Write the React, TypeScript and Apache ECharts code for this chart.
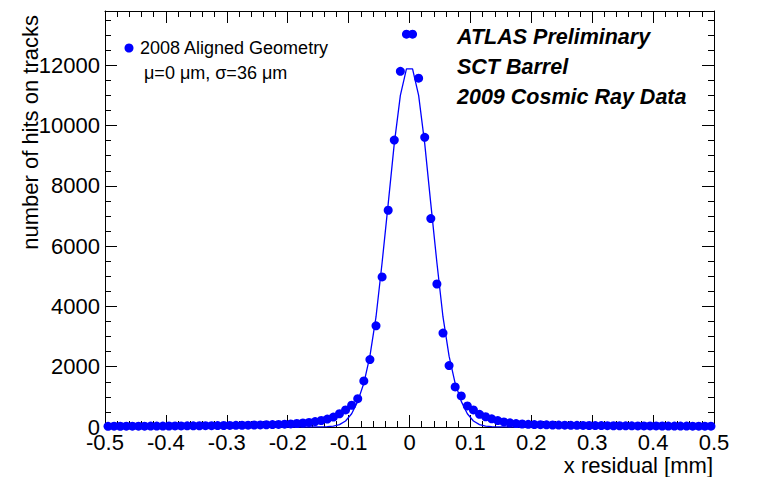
import { useEffect, useRef } from "react";
import * as echarts from "echarts";

// Histogram: 100 bins of 0.01 mm from -0.5 to 0.5 mm (bin centers -0.495 ... 0.495)
const binFirstCenter = -0.495;
const binWidth = 0.01;
const counts: number[] = [
  // -0.495 .. -0.405
  24, 26, 25, 27, 28, 27, 29, 30, 31, 32,
  // -0.395 .. -0.305
  33, 35, 36, 38, 39, 41, 43, 45, 47, 50,
  // -0.295 .. -0.205
  52, 55, 58, 62, 66, 70, 75, 80, 87, 95,
  // -0.195 .. -0.105
  102, 116, 132, 152, 180, 215, 262, 330, 440, 565,
  // -0.095 .. -0.005
  721, 941, 1529, 2237, 3358, 4977, 7190, 9518, 11800, 13030,
  // 0.005 .. 0.095
  13030, 11570, 9608, 6915, 4744, 3115, 2038, 1330, 1031, 700,
  // 0.105 .. 0.195
  565, 420, 340, 270, 212, 170, 140, 115, 100, 90,
  // 0.205 .. 0.295
  82, 76, 71, 67, 63, 60, 57, 54, 52, 50,
  // 0.305 .. 0.395
  48, 46, 44, 42, 41, 39, 38, 37, 36, 35,
  // 0.405 .. 0.495
  34, 33, 32, 31, 30, 30, 29, 28, 28, 27,
];

// Gaussian fit curve as drawn
const fitX: number[] = [
  -0.195, -0.185, -0.175, -0.165, -0.155, -0.145, -0.135, -0.125, -0.115, -0.105,
  -0.095, -0.085, -0.075, -0.065, -0.055, -0.045, -0.035, -0.025, -0.015, -0.005,
  0.005, 0.015, 0.025, 0.035, 0.045, 0.055, 0.065, 0.075, 0.085, 0.095,
  0.105, 0.115, 0.125, 0.135, 0.145, 0.155, 0.165, 0.175, 0.185, 0.195,
];
const fitY: number[] = [
  0, 0, 0, 0, 1, 3, 10, 30, 80, 200,
  440, 850, 1450, 2350, 3650, 5450, 7400, 9400, 11000, 11880,
  11880, 11000, 9400, 7400, 5450, 3650, 2350, 1450, 850, 440,
  200, 80, 30, 10, 3, 1, 0, 0, 0, 0,
];

const xMin = -0.5;
const xMax = 0.5;
const xStep = 0.1;
const yMin = 0;
const yMax = 13800;
const yStep = 2000;

const legendLabel = "2008 Aligned Geometry";
const legendSub = "\u03bc=0 \u03bcm, \u03c3=36 \u03bcm";
const infoLines = ["ATLAS Preliminary", "SCT Barrel", "2009 Cosmic Ray Data"];
const xTitle = "x residual [mm]";
const yTitle = "number of hits on tracks";

const FONT = "'Liberation Sans', Arial, Helvetica, sans-serif";
const BLUE = "#0000ff";

export default function App() {
  const ref = useRef<HTMLDivElement>(null);

  useEffect(() => {
    if (!ref.current) return;
    const chart = echarts.init(ref.current, undefined, { renderer: "svg" });

    const points = counts.map((c, i) => [
      Math.round((binFirstCenter + i * binWidth) * 1000) / 1000,
      c,
    ]);
    const fit = fitX.map((x, i) => [x, fitY[i]]);

    const axisCommonX = {
      type: "value" as const,
      min: xMin,
      max: xMax,
      interval: xStep,
      axisLine: { show: true, onZero: false, lineStyle: { color: "#000", width: 1 } },
      axisTick: { show: true, inside: true, length: 12, lineStyle: { color: "#000", width: 1 } },
      minorTick: { show: true, splitNumber: 5, length: 6, lineStyle: { color: "#000", width: 1 } },
      splitLine: { show: false },
      minorSplitLine: { show: false },
    };
    const axisCommonY = {
      type: "value" as const,
      min: yMin,
      max: yMax,
      interval: yStep,
      axisLine: { show: true, onZero: false, lineStyle: { color: "#000", width: 1 } },
      axisTick: { show: true, inside: true, length: 12, lineStyle: { color: "#000", width: 1 } },
      minorTick: { show: true, splitNumber: 4, length: 6, lineStyle: { color: "#000", width: 1 } },
      splitLine: { show: false },
      minorSplitLine: { show: false },
    };

    chart.setOption({
      animation: false,
      backgroundColor: "#fff",
      grid: { left: 105, right: 44, top: 11, bottom: 50, containLabel: false },
      xAxis: [
        {
          ...axisCommonX,
          position: "bottom",
          axisLabel: {
            show: true,
            fontSize: 22,
            color: "#000",
            fontFamily: FONT,
            margin: 4,
            formatter: (v: number) => String(Math.round(v * 10) / 10),
          },
        },
        {
          ...axisCommonX,
          position: "top",
          axisLabel: { show: false },
        },
      ],
      yAxis: [
        {
          ...axisCommonY,
          position: "left",
          axisLabel: {
            show: true,
            fontSize: 22,
            color: "#000",
            fontFamily: FONT,
            margin: 5,
            formatter: (v: number) => (v % yStep === 0 ? String(v) : ""),
          },
        },
        {
          ...axisCommonY,
          position: "right",
          axisLabel: { show: false },
        },
      ],
      series: [
        {
          type: "scatter",
          xAxisIndex: 0,
          yAxisIndex: 0,
          data: points,
          symbol: "circle",
          symbolSize: 9,
          itemStyle: { color: BLUE, opacity: 1 },
          z: 2,
        },
        {
          type: "line",
          xAxisIndex: 0,
          yAxisIndex: 0,
          data: fit,
          showSymbol: false,
          symbol: "none",
          lineStyle: { color: BLUE, width: 1.3 },
          z: 3,
        },
      ],
      graphic: [
        {
          type: "circle",
          shape: { cx: 129, cy: 48, r: 4.5 },
          style: { fill: BLUE },
        },
        {
          type: "text",
          x: 140,
          y: 48,
          style: {
            text: legendLabel,
            font: `18px ${FONT}`,
            fill: "#000",
            textAlign: "left",
            textVerticalAlign: "middle",
          },
        },
        {
          type: "text",
          x: 144,
          y: 73,
          style: {
            text: legendSub,
            font: `18px ${FONT}`,
            fill: "#000",
            textAlign: "left",
            textVerticalAlign: "middle",
          },
        },
        ...infoLines.map((t, i) => ({
          type: "text",
          x: 457,
          y: 37 + i * 30,
          style: {
            text: t,
            font: `italic bold 21.5px ${FONT}`,
            fill: "#000",
            textAlign: "left",
            textVerticalAlign: "middle",
          },
        })),
        {
          type: "text",
          x: 713,
          y: 465,
          style: {
            text: xTitle,
            font: `22px ${FONT}`,
            fill: "#000",
            textAlign: "right",
            textVerticalAlign: "middle",
          },
        },
        {
          type: "text",
          x: 30,
          y: 15,
          rotation: Math.PI / 2,
          style: {
            text: yTitle,
            font: `22px ${FONT}`,
            fill: "#000",
            textAlign: "right",
            textVerticalAlign: "middle",
          },
        },
      ],
    });

    return () => chart.dispose();
  }, []);

  return (
    <div
      ref={ref}
      style={{ position: "fixed", left: 0, top: 0, width: 758, height: 477, background: "#fff" }}
    />
  );
}
